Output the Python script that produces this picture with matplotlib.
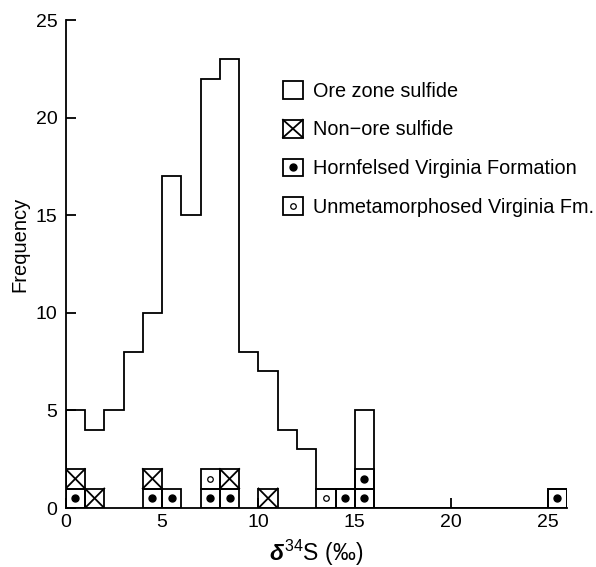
"""
Histogram of sulfur isotope values (delta34S) for ore zone sulfides, with
individual samples of the other groups drawn as marked unit cells.
"""

import numpy as np
import matplotlib

matplotlib.use("Agg")
import matplotlib.pyplot as plt
from matplotlib.legend_handler import HandlerBase
from matplotlib.lines import Line2D
from matplotlib.patches import Rectangle

# One-per-mil bins from 0 to 26
bin_edges = np.arange(0, 27)

# Ore zone sulfide counts per bin (0-1, 1-2, ..., 25-26)
ore_zone_counts = [3, 3, 5, 8, 8, 16, 15, 20, 21, 8, 6, 4, 3, 0, 0, 3,
                   0, 0, 0, 0, 0, 0, 0, 0, 0, 0]

# Single samples of the other groups, given by the left edge of their bin
hornfelsed_bins = [0, 4, 5, 7, 8, 14, 15, 15, 25]
unmetamorphosed_bins = [7, 13]
non_ore_bins = [0, 1, 4, 8, 10]

legend_kinds = ["ore", "non_ore", "hornfelsed", "unmetamorphosed"]
legend_labels = ["Ore zone sulfide", "Non\u2212ore sulfide",
                 "Hornfelsed Virginia Formation", "Unmetamorphosed Virginia Fm."]

y_ticks = [0, 5, 10, 15, 20, 25]
x_ticks = [0, 5, 10, 15, 20, 25]

LINE_WIDTH = 1.3
FONT_SIZE = 14


def cell_artists(kind, x0, y0, w, h, transform):
    """Box for one sample, with the symbol of its group."""
    artists = [Rectangle((x0, y0), w, h, fill=False, ec="black",
                         lw=LINE_WIDTH, transform=transform)]
    if kind == "non_ore":
        for ys in ([y0, y0 + h], [y0 + h, y0]):
            artists.append(Line2D([x0, x0 + w], ys, color="black",
                                  lw=LINE_WIDTH, transform=transform))
    elif kind == "hornfelsed":
        artists.append(Line2D([x0 + w / 2], [y0 + h / 2], ls="none", marker="o",
                              ms=5, color="black", transform=transform))
    elif kind == "unmetamorphosed":
        artists.append(Line2D([x0 + w / 2], [y0 + h / 2], ls="none", marker="o",
                              ms=4, mfc="white", mec="black", mew=0.9,
                              transform=transform))
    return artists


class CellKey:
    def __init__(self, kind):
        self.kind = kind


class CellHandler(HandlerBase):
    def create_artists(self, legend, orig_handle, xdescent, ydescent,
                       width, height, fontsize, trans):
        return cell_artists(orig_handle.kind, -xdescent, -ydescent,
                            width, height, trans)


def main():
    plt.rcParams["font.family"] = ["Liberation Sans", "DejaVu Sans"]
    plt.rcParams["mathtext.fontset"] = "custom"
    plt.rcParams["mathtext.rm"] = "Liberation Sans"
    plt.rcParams["mathtext.it"] = "Liberation Sans:italic:bold"

    fig = plt.figure(figsize=(5.96, 5.67), dpi=100)
    ax = fig.add_axes([0.1102, 0.104, 0.841, 0.8607])

    # stack the single samples bottom-up in each bin
    n_bins = len(bin_edges) - 1
    level = np.zeros(n_bins, dtype=int)
    for kind, bins in (("hornfelsed", hornfelsed_bins),
                       ("unmetamorphosed", unmetamorphosed_bins),
                       ("non_ore", non_ore_bins)):
        for b in bins:
            for art in cell_artists(kind, bin_edges[b], level[b], 1, 1, ax.transData):
                ax.add_artist(art)
            level[b] += 1

    total = level + np.asarray(ore_zone_counts)
    ax.stairs(total, bin_edges, baseline=0, color="black", lw=LINE_WIDTH)

    ax.set_xlim(bin_edges[0], bin_edges[-1])
    ax.set_ylim(0, 25)
    ax.set_xticks(x_ticks)
    ax.set_yticks(y_ticks)
    for side in ("top", "right"):
        ax.spines[side].set_visible(False)
    for side in ("left", "bottom"):
        ax.spines[side].set_linewidth(LINE_WIDTH)
    ax.tick_params(direction="in", length=7, width=LINE_WIDTH, labelsize=FONT_SIZE)
    ax.tick_params(axis="y", pad=6)
    ax.tick_params(axis="x", pad=4.5)

    ax.set_ylabel("Frequency", fontsize=FONT_SIZE + 0.5)
    ax.yaxis.set_label_coords(-0.073, 0.54)
    ax.set_xlabel(r"$\delta^{34}$S (‰)", fontsize=16.5)
    ax.xaxis.set_label_coords(0.5, -0.062)

    handles = [CellKey(k) for k in legend_kinds]
    ax.legend(handles, legend_labels, handler_map={CellKey: CellHandler()},
              loc="upper left", bbox_to_anchor=(0.4335, 0.875),
              frameon=False, fontsize=14.3, borderpad=0, borderaxespad=0,
              handlelength=1.0, handleheight=1.0, handletextpad=0.5,
              labelspacing=0.96)

    fig.savefig("out.png", dpi=100)


if __name__ == "__main__":
    main()
